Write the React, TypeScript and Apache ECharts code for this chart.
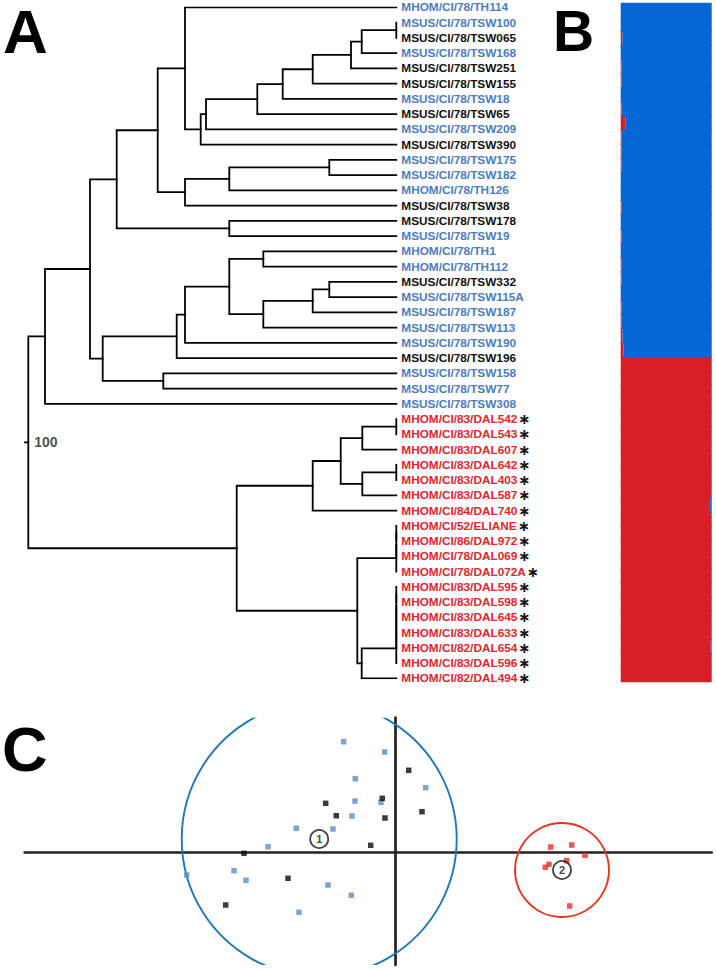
import React, { useEffect, useRef } from "react";
import * as echarts from "echarts";

// ---------- Panel A: dendrogram ----------
const leafNames = [
  "MHOM/CI/78/TH114", "MSUS/CI/78/TSW100", "MSUS/CI/78/TSW065", "MSUS/CI/78/TSW168",
  "MSUS/CI/78/TSW251", "MSUS/CI/78/TSW155", "MSUS/CI/78/TSW18", "MSUS/CI/78/TSW65",
  "MSUS/CI/78/TSW209", "MSUS/CI/78/TSW390", "MSUS/CI/78/TSW175", "MSUS/CI/78/TSW182",
  "MHOM/CI/78/TH126", "MSUS/CI/78/TSW38", "MSUS/CI/78/TSW178", "MSUS/CI/78/TSW19",
  "MHOM/CI/78/TH1", "MHOM/CI/78/TH112", "MSUS/CI/78/TSW332", "MSUS/CI/78/TSW115A",
  "MSUS/CI/78/TSW187", "MSUS/CI/78/TSW113", "MSUS/CI/78/TSW190", "MSUS/CI/78/TSW196",
  "MSUS/CI/78/TSW158", "MSUS/CI/78/TSW77", "MSUS/CI/78/TSW308",
  "MHOM/CI/83/DAL542", "MHOM/CI/83/DAL543", "MHOM/CI/83/DAL607", "MHOM/CI/83/DAL642",
  "MHOM/CI/83/DAL403", "MHOM/CI/83/DAL587", "MHOM/CI/84/DAL740", "MHOM/CI/52/ELIANE",
  "MHOM/CI/86/DAL972", "MHOM/CI/78/DAL069", "MHOM/CI/78/DAL072A", "MHOM/CI/83/DAL595",
  "MHOM/CI/83/DAL598", "MHOM/CI/83/DAL645", "MHOM/CI/83/DAL633", "MHOM/CI/82/DAL654",
  "MHOM/CI/83/DAL596", "MHOM/CI/82/DAL494",
];
// b = blue, k = black, r = red (marked *)
const leafGroups = [
  "b", "b", "k", "b", "k", "k", "b", "k", "b", "k", "b", "b", "b", "k", "k", "b",
  "b", "b", "k", "b", "b", "b", "b", "k", "b", "b", "b",
  "r", "r", "r", "r", "r", "r", "r", "r", "r", "r", "r", "r", "r", "r", "r", "r", "r", "r",
];
const TIP = 368; // depth of the leaves
// tree: [node depth, ...children]; a number child is a leaf index
const tree: any = [0,
  [16.7,
    [61.7,
      [88.4,
        [129.4,
          [156.7, 0, [172.4, [177.7, [229, [254.4, [284.4, [322.7, [333.4, [TIP, 1, 2], 3], 4], 5], 6], 7], 8], 9]],
          [156.7, [201, [301, 10, 11], 12], 13],
        ],
        [201, 14, 15],
      ],
      [74.4,
        [148.4, [156.7, [201, [235, 16, 17], [235, [284.4, [301, 18, 19], 20], 21]], 22], 23],
        [135, 24, 25],
      ],
    ],
    26,
  ],
  [208.4,
    [284.4, [312.4, [334, [TIP, 27, 28], 29], [334, [TIP, 30, 31], 32]], 33],
    [329,
      [TIP, [TIP, [TIP, 34, 35], 36], 37],
      [333.4, [TIP, [TIP, [TIP, [TIP, [TIP, 38, 39], 40], 41], 42], 43], 44],
    ],
  ],
];
const rootSupport = "100";

// ---------- Panel B: membership (structure) ----------
const structRed = [
  0, 0, 0.018, 0, 0.01, 0.01, 0, 0.01, 0.055, 0.01, 0.01, 0.01, 0, 0, 0.01, 0, 0.01, 0,
  0.01, 0.01, 0, 0.01, 0.01, 0.02, 0.03,
  1, 1, 1, 1, 1, 1, 1, 1, 1, 1, 0.98, 1, 1, 1, 1, 1, 1, 1, 1, 1, 0.99, 1, 1,
];
const structBlue = [
  1, 1, 0.982, 1, 0.99, 0.99, 1, 0.99, 0.945, 0.99, 0.99, 0.99, 1, 1, 0.99, 1, 0.99, 1,
  0.99, 0.99, 1, 0.99, 0.99, 0.98, 0.97,
  0, 0, 0, 0, 0, 0, 0, 0, 0, 0, 0.02, 0, 0, 0, 0, 0, 0, 0, 0, 0, 0.01, 0, 0,
];
const individuals = structRed.map((_, i) => "ind" + (i + 1));

// ---------- Panel C: PCoA ----------
const pcoBlue = [
  [-0.26, 0.553], [-0.055, 0.5015], [-0.202, 0.368], [0.15, 0.323], [-0.2035, 0.2565],
  [-0.0735, 0.25], [-0.2185, 0.1815], [-0.497, 0.12], [-0.3135, 0.1165], [-0.6385, 0.028],
  [-1.045, -0.1135], [-0.8085, -0.092], [-0.7485, -0.14], [-0.3385, -0.1635],
  [-0.222, -0.215], [-0.4835, -0.3],
];
const pcoBlack = [
  [0.065, 0.41], [-0.067, 0.27], [-0.35, 0.245], [-0.297, 0.183], [-0.0535, 0.1715],
  [0.1315, 0.203], [-0.125, 0.035], [-0.7585, -0.005], [-0.5385, -0.13], [-0.85, -0.2635],
];
const pcoRed = [
  [0.775, 0.0265], [0.88, 0.0365], [0.9465, -0.015], [0.855, -0.042], [0.7665, -0.06],
  [0.748, -0.075], [0.87, -0.2685],
];
// cluster circles: [cx, cy, radius]
const clusterCircles = [
  [-0.3825, 0.0665, 0.6875],
  [0.8315, -0.0885, 0.235],
];
const clusterLabels = ["1", "2"];
const clusterColors = ["#1c78bd", "#e8331f"];

const FONT = "'Liberation Sans', Arial, Helvetica, sans-serif";
const BLUE_TXT = "#4a7cc2";
const RED_TXT = "#e8232a";
const STRUCT_RED = "#d81e27";
const STRUCT_BLUE = "#0467d5";

function layoutTree(node: any, segs: number[][][]): { x: number; y: number } {
  if (typeof node === "number") return { x: TIP, y: node };
  const [d, ...kids] = node;
  const pts = kids.map((k: any) => layoutTree(k, segs));
  const first = pts[0];
  const last = pts[pts.length - 1];
  segs.push([[first.x, first.y], [d, first.y], [d, last.y], [last.x, last.y]]);
  for (let i = 1; i < pts.length - 1; i++) segs.push([[d, pts[i].y], [pts[i].x, pts[i].y]]);
  return { x: d, y: (first.y + last.y) / 2 };
}

function barData(vals: number[], color: string) {
  return vals.map((v) => ({
    value: v,
    itemStyle: v > 0 ? { color } : { color, opacity: 0 },
  }));
}

export default function App() {
  const ref = useRef<HTMLDivElement>(null);
  useEffect(() => {
    document.body.style.margin = "0";
    const chart = echarts.init(ref.current!, undefined, { renderer: "svg" });
    const segs: number[][][] = [];
    const root = layoutTree(tree, segs);
    segs.push([[-3.3, root.y], [0, root.y]]);

    const labelStyle = { fontFamily: FONT, fontWeight: "bold", fontSize: 11.8, lineHeight: 13 };
    const option: any = {
      animation: false,
      grid: [
        { left: 24.3, top: 7.3, width: 372, height: 671 },
        { left: 620.7, top: 2.7, width: 91, height: 679.6 },
        { left: 24.7, top: 717.7, width: 687, height: 247.3 },
      ],
      xAxis: [
        { gridIndex: 0, type: "value", min: -4, max: TIP, show: false },
        { gridIndex: 1, type: "value", min: 0, max: 1, show: false },
        {
          gridIndex: 2, type: "value", min: -1.855, max: 1.58,
          axisLine: { onZero: true, lineStyle: { color: "#222", width: 2.7 } },
          axisTick: { show: false }, axisLabel: { show: false }, splitLine: { show: false },
        },
      ],
      yAxis: [
        { gridIndex: 0, type: "value", min: 0, max: 44, inverse: true, show: false },
        {
          gridIndex: 0, type: "category", data: leafNames, inverse: true, boundaryGap: false,
          position: "right", axisLine: { show: false }, axisTick: { show: false },
          splitLine: { show: false },
          axisLabel: {
            interval: 0, margin: 5,
            formatter: (v: string, i: number) => {
              const g = leafGroups[i];
              return g === "r" ? `{r|${v}}{s|\u2217}` : `{${g}|${v}}`;
            },
            rich: {
              b: { ...labelStyle, color: BLUE_TXT },
              k: { ...labelStyle, color: "#111" },
              r: { ...labelStyle, color: RED_TXT },
              s: {
                color: "#111", fontFamily: "'DejaVu Sans', sans-serif", fontWeight: "bold",
                fontSize: 14.5, lineHeight: 13, padding: [0, 0, 0, 1],
              },
            },
          },
        },
        { gridIndex: 1, type: "category", data: individuals, inverse: true, show: false },
        {
          gridIndex: 2, type: "value", min: -0.5635, max: 0.673,
          axisLine: { onZero: true, lineStyle: { color: "#222", width: 2.7 } },
          axisTick: { show: false }, axisLabel: { show: false }, splitLine: { show: false },
        },
      ],
      series: [
        {
          type: "lines", coordinateSystem: "cartesian2d", xAxisIndex: 0, yAxisIndex: 0,
          polyline: true, silent: true,
          lineStyle: { color: "#000", width: 1.8, opacity: 1, join: "miter", cap: "square" },
          data: segs.map((c) => ({ coords: c })),
        },
        {
          type: "scatter", xAxisIndex: 0, yAxisIndex: 0, symbolSize: 0, silent: true,
          data: [[0, root.y]],
          label: {
            show: true, position: "right", distance: 6, formatter: rootSupport,
            fontFamily: FONT, fontWeight: "bold", fontSize: 14, color: "#222",
          },
        },
        {
          type: "bar", xAxisIndex: 1, yAxisIndex: 2, stack: "q", barWidth: "110%",
          data: barData(structRed, STRUCT_RED), silent: true,
        },
        {
          type: "bar", xAxisIndex: 1, yAxisIndex: 2, stack: "q", barWidth: "110%",
          data: barData(structBlue, STRUCT_BLUE), silent: true,
        },
        {
          type: "custom", xAxisIndex: 2, yAxisIndex: 3, clip: true, silent: true,
          data: clusterCircles,
          renderItem: (params: any, api: any) => {
            const c = api.coord([api.value(0), api.value(1)]);
            const r = api.size([api.value(2), 0])[0];
            return {
              type: "circle",
              shape: { cx: c[0], cy: c[1], r },
              style: { fill: "none", stroke: clusterColors[params.dataIndex], lineWidth: 1.9 },
            };
          },
        },
        {
          type: "scatter", xAxisIndex: 2, yAxisIndex: 3, symbol: "rect", symbolSize: 5.5,
          data: pcoBlue, itemStyle: { color: "#5b8dc9" }, silent: true,
        },
        {
          type: "scatter", xAxisIndex: 2, yAxisIndex: 3, symbol: "rect", symbolSize: 5.5,
          data: pcoBlack, itemStyle: { color: "#0a0a0a" }, silent: true,
        },
        {
          type: "scatter", xAxisIndex: 2, yAxisIndex: 3, symbol: "rect", symbolSize: 5.5,
          data: pcoRed, itemStyle: { color: "#ee2b1f" }, silent: true,
        },
        {
          type: "scatter", xAxisIndex: 2, yAxisIndex: 3, symbol: "circle", symbolSize: 18,
          silent: true,
          data: clusterCircles.map((c) => [c[0], c[1]]),
          itemStyle: { color: "rgba(255,255,255,0)", borderColor: "#111", borderWidth: 1.8 },
          label: {
            show: true, position: "inside",
            formatter: (p: any) => clusterLabels[p.dataIndex],
            fontFamily: FONT, fontWeight: "bold", fontSize: 11, color: "#111",
          },
        },
      ],
      graphic: [
        { type: "text", x: 3, y: 31, style: { text: "A", font: `bold 62px ${FONT}`, lineHeight: 50, verticalAlign: "middle", align: "left", fill: "#000" } },
        { type: "text", x: 553, y: 31, style: { text: "B", font: `bold 57px ${FONT}`, lineHeight: 50, verticalAlign: "middle", align: "left", fill: "#000" } },
        { type: "text", x: 2, y: 749, style: { text: "C", font: `bold 63px ${FONT}`, lineHeight: 50, verticalAlign: "middle", align: "left", fill: "#000" } },
      ],
    };
    chart.setOption(option);
    return () => chart.dispose();
  }, []);
  return (
    <div
      ref={ref}
      style={{ position: "absolute", left: 0, top: 0, width: 716, height: 970, background: "#fff" }}
    />
  );
}
